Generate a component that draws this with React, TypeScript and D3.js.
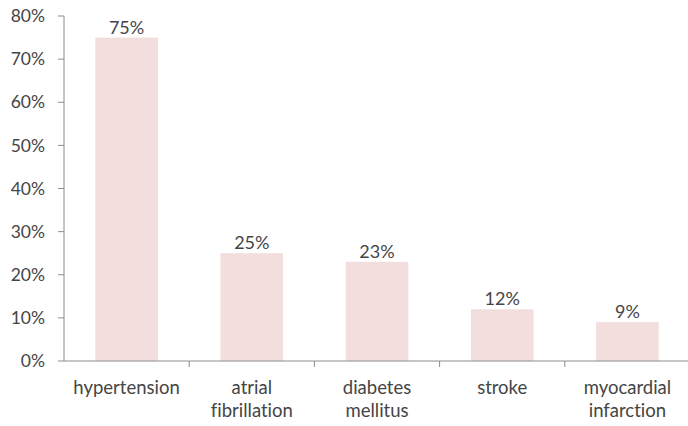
import React from "react";
import * as d3 from "d3";

const categories: string[][] = [
  ["hypertension"],
  ["atrial", "fibrillation"],
  ["diabetes", "mellitus"],
  ["stroke"],
  ["myocardial", "infarction"],
];
const values: number[] = [75, 25, 23, 12, 9];
const yTicks: number[] = [0, 10, 20, 30, 40, 50, 60, 70, 80];

const W = 688;
const H = 426;
const left = 64;
const right = 690;
const top = 16;
const bottom = 361;
const font = "Lato, 'Open Sans', sans-serif";
const textColor = "#454545";
const axisColor = "#8c8c8c";
const textStyle = { fontVariantLigatures: "none" as const };

export default function App() {
  const keys = categories.map((c) => c.join(" "));
  const x = d3.scaleBand<string>().domain(keys).range([left, right]).padding(0);
  const y = d3.scaleLinear().domain([0, 80]).range([bottom, top]);
  const bw = x.bandwidth();
  const barW = bw * 0.5;

  return (
    <svg
      width={W}
      height={H}
      style={{ position: "absolute", left: 0, top: 0, background: "#fff" }}
    >
      {values.map((v, i) => {
        const cx = (x(keys[i]) as number) + bw / 2;
        return (
          <g key={i}>
            <rect
              x={cx - barW / 2}
              y={y(v)}
              width={barW}
              height={y(0) - y(v)}
              fill="#f2dedd"
            />
            <text
              x={cx}
              y={y(v) - 4}
              textAnchor="middle"
              fontFamily={font}
              fontSize={18}
              fill={textColor}
              style={textStyle}
            >
              {v}%
            </text>
          </g>
        );
      })}
      <line x1={left} x2={left} y1={top} y2={bottom} stroke={axisColor} strokeWidth={1} />
      <line x1={left} x2={right} y1={bottom} y2={bottom} stroke={axisColor} strokeWidth={1} />
      {yTicks.map((t) => (
        <g key={t}>
          <line x1={left - 6} x2={left} y1={y(t)} y2={y(t)} stroke={axisColor} />
          <text
            x={45}
            y={y(t)}
            dy="0.35em"
            textAnchor="end"
            fontFamily={font}
            fontSize={17.5}
            fill={textColor}
            style={textStyle}
          >
            {t}%
          </text>
        </g>
      ))}
      {keys.map((k) => (
        <line
          key={k}
          x1={(x(k) as number) + bw}
          x2={(x(k) as number) + bw}
          y1={bottom}
          y2={bottom + 6}
          stroke={axisColor}
        />
      ))}
      {categories.map((lines, i) => {
        const cx = (x(keys[i]) as number) + bw / 2;
        return (
          <text
            key={i}
            textAnchor="middle"
            fontFamily={font}
            fontSize={18.5}
            fill={textColor}
            style={textStyle}
          >
            {lines.map((l, j) => (
              <tspan key={j} x={cx} y={394 + j * 23}>
                {l}
              </tspan>
            ))}
          </text>
        );
      })}
    </svg>
  );
}
